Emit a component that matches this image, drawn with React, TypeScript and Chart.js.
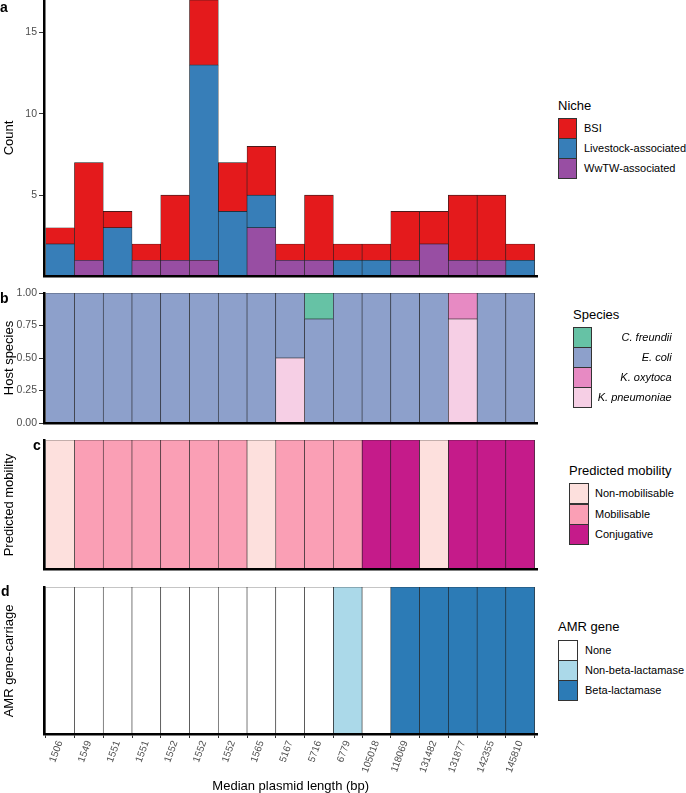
import React, { useEffect, useRef } from 'react';
import { Chart, registerables } from 'chart.js';
Chart.register(...registerables);

const FONT = "'Liberation Sans', Arial, Helvetica, sans-serif";

// ---------- data ----------
const plasmidLengths = ['1506', '1549', '1551', '1551', '1552', '1552', '1552', '1565', '5167', '5716', '6779', '105018', '118069', '131482', '131877', '142355', '145810'];

const nicheNames = ['BSI', 'Livestock-associated', 'WwTW-associated'];
const bsiCounts = [1, 6, 1, 1, 4, 4, 3, 3, 1, 4, 1, 1, 3, 2, 4, 4, 1];
const livestockCounts = [2, 0, 3, 0, 0, 12, 4, 2, 0, 0, 1, 1, 0, 0, 0, 0, 1];
const wwtwCounts = [0, 1, 0, 1, 1, 1, 0, 3, 1, 1, 0, 0, 1, 2, 1, 1, 0];

const speciesNames = ['C. freundii', 'E. coli', 'K. oxytoca', 'K. pneumoniae'];
const cFreundiiShare = [0, 0, 0, 0, 0, 0, 0, 0, 0, 0.2, 0, 0, 0, 0, 0, 0, 0];
const eColiShare = [1, 1, 1, 1, 1, 1, 1, 1, 0.5, 0.8, 1, 1, 1, 1, 0, 1, 1];
const kOxytocaShare = [0, 0, 0, 0, 0, 0, 0, 0, 0, 0, 0, 0, 0, 0, 0.2, 0, 0];
const kPneumoniaeShare = [0, 0, 0, 0, 0, 0, 0, 0, 0.5, 0, 0, 0, 0, 0, 0.8, 0, 0];

const mobilityLevels = ['Non-mobilisable', 'Mobilisable', 'Conjugative'];
const mobilityClass = ['Non-mobilisable', 'Mobilisable', 'Mobilisable', 'Mobilisable', 'Mobilisable', 'Mobilisable', 'Mobilisable', 'Non-mobilisable', 'Mobilisable', 'Mobilisable', 'Mobilisable', 'Conjugative', 'Conjugative', 'Non-mobilisable', 'Conjugative', 'Conjugative', 'Conjugative'];

const amrLevels = ['None', 'Non-beta-lactamase', 'Beta-lactamase'];
const amrClass = ['None', 'None', 'None', 'None', 'None', 'None', 'None', 'None', 'None', 'None', 'Non-beta-lactamase', 'None', 'Beta-lactamase', 'Beta-lactamase', 'Beta-lactamase', 'Beta-lactamase', 'Beta-lactamase'];

const countTicks = [5, 10, 15];
const countMax = 17;
const proportionTicks = [0, 0.25, 0.5, 0.75, 1];

// ---------- styles ----------
const nicheColors = ['#E41A1C', '#377EB8', '#984EA3'];
const speciesColors = ['#66C2A5', '#8DA0CB', '#E78AC3', '#F6CFE5'];
const mobilityColors = ['#FDE0DD', '#FA9FB5', '#C51B8A'];
const amrColors = ['#FFFFFF', '#ABD9E9', '#2C7BB6'];

const X_MIN = -0.56;
const X_MAX = 16.6;
const CANVAS_W = 545;
const Y_AXIS_W = 44;
const PAD_RIGHT = 7.5;

const toPoints = (vals: number[]) => vals.map((v, i) => ({ x: i, y: v > 0 ? v : null }));
const classPoints = (cls: string[], level: string) => cls.map((c, i) => ({ x: i, y: c === level ? 1 : null }));

const zeroPad = (s: any) => {
  s.paddingLeft = 0; s.paddingRight = 0; s.paddingTop = 0; s.paddingBottom = 0;
};

function buildConfig(datasets: any[], p: { yMax: number; yTicks?: number[]; yFmt?: (v: number) => string; xLabels: boolean; xHeight: number; padTop: number; padBottom: number; }) {
  return {
    type: 'bar',
    data: { datasets },
    options: {
      responsive: false,
      animation: false,
      events: [],
      layout: { padding: { left: 0, right: PAD_RIGHT, top: p.padTop, bottom: p.padBottom } },
      plugins: { legend: { display: false }, tooltip: { enabled: false } },
      datasets: { bar: { barPercentage: 1, categoryPercentage: 1, borderWidth: 0.6, borderColor: '#1a1a1a', borderSkipped: false } },
      scales: {
        x: {
          type: 'linear', min: X_MIN, max: X_MAX, stacked: true, offset: false,
          border: { display: true, color: '#000', width: 2.5, z: 1 },
          grid: { display: p.xLabels, drawOnChartArea: false, drawTicks: p.xLabels, tickLength: 4, color: '#333', lineWidth: 1 },
          ticks: {
            display: p.xLabels, autoSkip: false, minRotation: 70, maxRotation: 70, padding: 1,
            color: '#4D4D4D', font: { family: FONT, size: 10 },
            callback: (v: number) => plasmidLengths[Math.round(v)],
          },
          afterBuildTicks: (s: any) => { s.ticks = plasmidLengths.map((_, i) => ({ value: i })); },
          afterFit: (s: any) => { s.height = p.xHeight; zeroPad(s); },
        },
        y: {
          min: 0, max: p.yMax, stacked: true,
          border: { display: true, color: '#000', width: 2.5, z: 1 },
          grid: { display: !!p.yTicks, drawOnChartArea: false, drawTicks: !!p.yTicks, tickLength: 5, color: '#333', lineWidth: 1 },
          ticks: {
            display: !!p.yTicks, padding: 2, color: '#4D4D4D', font: { family: FONT, size: 10.5 },
            callback: (v: number) => (p.yFmt ? p.yFmt(v) : String(v)),
          },
          afterBuildTicks: (s: any) => { if (p.yTicks) s.ticks = p.yTicks.map((v) => ({ value: v })); },
          afterFit: (s: any) => { s.width = Y_AXIS_W; zeroPad(s); },
        },
      },
    },
  };
}

function ChartCanvas({ config, top, height }: { config: any; top: number; height: number }) {
  const ref = useRef<HTMLCanvasElement | null>(null);
  useEffect(() => {
    if (!ref.current) return;
    const chart = new Chart(ref.current, config);
    return () => chart.destroy();
  }, []);
  return (
    <canvas ref={ref} width={CANVAS_W} height={height}
      style={{ position: 'absolute', left: 0, top, width: CANVAS_W, height, display: 'block' }} />
  );
}

function Legend({ title, titleLeft, titleTop, boxLeft, boxTop, names, colors, labelLeft, labelRight, italic }:
  { title: string; titleLeft: number; titleTop: number; boxLeft: number; boxTop: number; names: string[]; colors: string[]; labelLeft?: number; labelRight?: number; italic?: boolean }) {
  const step = 20.2;
  return (
    <>
      <div style={{ position: 'absolute', left: titleLeft, top: titleTop, fontSize: 13, lineHeight: '15px', whiteSpace: 'nowrap', color: '#000' }}>{title}</div>
      {names.map((n, i) => (
        <React.Fragment key={n}>
          <div style={{ position: 'absolute', left: boxLeft, top: boxTop + i * step, width: 19.6, height: step + 1, boxSizing: 'border-box', border: '1px solid #333', background: colors[i] }} />
          {labelRight !== undefined ? (
            <div style={{ position: 'absolute', left: labelRight - 200, width: 200, textAlign: 'right', top: boxTop + i * step, height: step, lineHeight: step + 'px', fontSize: 11, fontStyle: italic ? 'italic' : 'normal', whiteSpace: 'nowrap', color: '#000' }}>{n}</div>
          ) : (
            <div style={{ position: 'absolute', left: labelLeft, top: boxTop + i * step, height: step, lineHeight: step + 'px', fontSize: 11, fontStyle: italic ? 'italic' : 'normal', whiteSpace: 'nowrap', color: '#000' }}>{n}</div>
          )}
        </React.Fragment>
      ))}
    </>
  );
}

function RotTitle({ text, cx, cy }: { text: string; cx: number; cy: number }) {
  return (
    <div style={{ position: 'absolute', left: cx, top: cy, transform: 'translate(-50%, -50%) rotate(-90deg)', fontSize: 13, lineHeight: '15px', whiteSpace: 'nowrap', color: '#000' }}>{text}</div>
  );
}

function PanelTag({ tag, left, top }: { tag: string; left: number; top: number }) {
  return <div style={{ position: 'absolute', left, top, fontSize: 14, fontWeight: 'bold', lineHeight: '14px', color: '#000' }}>{tag}</div>;
}

export default function App() {
  const nicheDatasets = [
    { label: nicheNames[2], data: toPoints(wwtwCounts), backgroundColor: nicheColors[2] },
    { label: nicheNames[1], data: toPoints(livestockCounts), backgroundColor: nicheColors[1] },
    { label: nicheNames[0], data: toPoints(bsiCounts), backgroundColor: nicheColors[0] },
  ];
  const speciesDatasets = [
    { label: speciesNames[3], data: toPoints(kPneumoniaeShare), backgroundColor: speciesColors[3] },
    { label: speciesNames[2], data: toPoints(kOxytocaShare), backgroundColor: speciesColors[2] },
    { label: speciesNames[1], data: toPoints(eColiShare), backgroundColor: speciesColors[1] },
    { label: speciesNames[0], data: toPoints(cFreundiiShare), backgroundColor: speciesColors[0] },
  ];
  const mobilityDatasets = mobilityLevels.map((lv, k) => ({ label: lv, data: classPoints(mobilityClass, lv), backgroundColor: mobilityColors[k] }));
  const amrDatasets = amrLevels.map((lv, k) => ({ label: lv, data: classPoints(amrClass, lv), backgroundColor: amrColors[k] }));

  const cfgA = buildConfig(nicheDatasets, { yMax: countMax, yTicks: countTicks, xLabels: false, xHeight: 0, padTop: 0, padBottom: 8.5 });
  const cfgB = buildConfig(speciesDatasets, { yMax: 1, yTicks: proportionTicks, yFmt: (v) => v.toFixed(2), xLabels: false, xHeight: 0, padTop: 8, padBottom: 7 });
  const cfgC = buildConfig(mobilityDatasets, { yMax: 1, xLabels: false, xHeight: 0, padTop: 8, padBottom: 8 });
  const cfgD = buildConfig(amrDatasets, { yMax: 1, xLabels: true, xHeight: 59, padTop: 8, padBottom: 0 });

  return (
    <div style={{ position: 'absolute', left: 0, top: 0, width: 686, height: 793, background: '#fff', fontFamily: FONT, overflow: 'hidden' }}>
      <ChartCanvas config={cfgA} top={0} height={285} />
      <ChartCanvas config={cfgB} top={285} height={145} />
      <ChartCanvas config={cfgC} top={432} height={145} />
      <ChartCanvas config={cfgD} top={579} height={214} />

      <PanelTag tag="a" left={0} top={0} />
      <PanelTag tag="b" left={0} top={291} />
      <PanelTag tag="c" left={33} top={438} />
      <PanelTag tag="d" left={1} top={584} />

      <RotTitle text="Count" cx={7.5} cy={138} />
      <RotTitle text="Host species" cx={7.5} cy={358} />
      <RotTitle text="Predicted mobility" cx={7.5} cy={504.5} />
      <RotTitle text="AMR gene-carriage" cx={7.5} cy={660.5} />

      <div style={{ position: 'absolute', left: 290.75, top: 777.5, transform: 'translateX(-50%)', fontSize: 13, lineHeight: '15px', whiteSpace: 'nowrap', color: '#000' }}>Median plasmid length (bp)</div>

      <Legend title="Niche" titleLeft={558} titleTop={98} boxLeft={557.7} boxTop={117.7} names={nicheNames} colors={nicheColors} labelLeft={584} />
      <Legend title="Species" titleLeft={573} titleTop={306.6} boxLeft={572.7} boxTop={326.7} names={speciesNames} colors={speciesColors} labelRight={671.7} italic />
      <Legend title="Predicted mobility" titleLeft={569} titleTop={463} boxLeft={569} boxTop={483.3} names={mobilityLevels} colors={mobilityColors} labelLeft={595} />
      <Legend title="AMR gene" titleLeft={558} titleTop={619} boxLeft={558} boxTop={639.8} names={amrLevels} colors={amrColors} labelLeft={585} />
    </div>
  );
}
